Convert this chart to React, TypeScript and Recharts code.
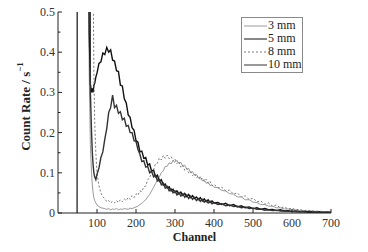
import React from 'react';
import { LineChart, Line, XAxis, YAxis } from 'recharts';

const channels = [
  49, 50, 60, 70, 75, 78, 80, 83, 86, 88, 90, 92, 94, 97,
  100, 105, 110, 115, 120, 125, 130, 135, 140, 145, 150, 155, 160, 165, 170, 175,
  180, 185, 190, 195, 200, 205, 210, 215, 220, 225, 230, 235, 240, 245, 250, 255,
  260, 265, 270, 275, 280, 285, 290, 295, 300, 305, 310, 315, 320, 325, 330, 335,
  340, 345, 350, 355, 360, 365, 370, 375, 380, 385, 390, 395, 400,
  410, 420, 430, 440, 450, 460, 470, 480, 490, 500, 510, 520, 530, 540, 550, 560,
  570, 580, 590, 600, 610, 620, 630, 640, 650, 660, 670, 680, 690, 700,
];

const mm3 = [
  2, 2, 2, 2, 2, 0.6, 0.35, 0.17, 0.1, 0.07, 0.05, 0.038, 0.031, 0.025,
  0.02, 0.016, 0.013, 0.012, 0.011, 0.009, 0.011, 0.008, 0.01, 0.009, 0.011, 0.008, 0.01, 0.009, 0.011, 0.01,
  0.009, 0.012, 0.011, 0.013, 0.015, 0.017, 0.021, 0.024, 0.029, 0.033, 0.04, 0.046, 0.055, 0.064, 0.073, 0.082,
  0.09, 0.1, 0.105, 0.116, 0.116, 0.125, 0.122, 0.13, 0.126, 0.131, 0.123, 0.126, 0.116, 0.119, 0.109, 0.111,
  0.1, 0.103, 0.094, 0.096, 0.087, 0.09, 0.08, 0.083, 0.074, 0.077, 0.068, 0.07, 0.064,
  0.063, 0.056, 0.055, 0.048, 0.047, 0.04, 0.04, 0.033, 0.033, 0.027, 0.026, 0.021, 0.021, 0.017, 0.017, 0.013,
  0.013, 0.01, 0.01, 0.008, 0.008, 0.006, 0.006, 0.005, 0.005, 0.004, 0.004, 0.003, 0.003, 0.002,
];

const mm5 = [
  2, 2, 2, 2, 2, 0.8, 0.45, 0.32, 0.3, 0.31, 0.3, 0.318, 0.322, 0.338,
  0.348, 0.372, 0.376, 0.398, 0.394, 0.412, 0.4, 0.406, 0.38, 0.378, 0.354, 0.352, 0.318, 0.316, 0.284, 0.274,
  0.244, 0.238, 0.212, 0.206, 0.18, 0.176, 0.152, 0.154, 0.136, 0.138, 0.119, 0.122, 0.104, 0.107, 0.09, 0.094,
  0.079, 0.083, 0.069, 0.072, 0.062, 0.065, 0.055, 0.059, 0.051, 0.055, 0.047, 0.052, 0.044, 0.049, 0.041, 0.046,
  0.038, 0.043, 0.036, 0.04, 0.033, 0.038, 0.03, 0.035, 0.028, 0.033, 0.026, 0.03, 0.025,
  0.026, 0.021, 0.024, 0.018, 0.021, 0.015, 0.018, 0.013, 0.015, 0.011, 0.013, 0.009, 0.011, 0.008, 0.009, 0.006,
  0.008, 0.005, 0.006, 0.004, 0.005, 0.003, 0.004, 0.003, 0.003, 0.002, 0.003, 0.002, 0.002, 0.002,
];

const mm8 = [
  2, 2, 2, 2, 2, 2, 2, 2, 2, 2, 0.6, 0.35, 0.23, 0.15,
  0.1, 0.068, 0.05, 0.04, 0.036, 0.028, 0.031, 0.025, 0.029, 0.025, 0.031, 0.026, 0.033, 0.028, 0.035, 0.031,
  0.039, 0.034, 0.043, 0.038, 0.048, 0.044, 0.055, 0.053, 0.065, 0.067, 0.083, 0.087, 0.103, 0.107, 0.123, 0.124,
  0.137, 0.132, 0.143, 0.136, 0.144, 0.135, 0.14, 0.13, 0.135, 0.123, 0.128, 0.114, 0.119, 0.106, 0.111, 0.1,
  0.104, 0.093, 0.098, 0.088, 0.092, 0.082, 0.087, 0.078, 0.084, 0.073, 0.078, 0.068, 0.071,
  0.063, 0.064, 0.055, 0.057, 0.047, 0.05, 0.04, 0.043, 0.034, 0.037, 0.028, 0.03, 0.022, 0.025, 0.017, 0.02,
  0.013, 0.015, 0.01, 0.012, 0.008, 0.009, 0.006, 0.007, 0.005, 0.005, 0.004, 0.004, 0.003, 0.003,
];

const mm10 = [
  0, 2, 2, 2, 2, 2, 2, 0.3, 0.2, 0.15, 0.12, 0.1, 0.09, 0.083,
  0.096, 0.112, 0.138, 0.152, 0.184, 0.21, 0.25, 0.262, 0.293, 0.262, 0.268, 0.248, 0.252, 0.232, 0.236, 0.216,
  0.218, 0.2, 0.2, 0.18, 0.178, 0.158, 0.146, 0.128, 0.13, 0.114, 0.116, 0.1, 0.104, 0.09, 0.094, 0.08,
  0.083, 0.07, 0.074, 0.062, 0.066, 0.055, 0.06, 0.05, 0.055, 0.045, 0.051, 0.042, 0.048, 0.039, 0.045, 0.036,
  0.042, 0.034, 0.039, 0.031, 0.036, 0.029, 0.034, 0.027, 0.031, 0.025, 0.029, 0.023, 0.026,
  0.021, 0.023, 0.018, 0.02, 0.016, 0.017, 0.013, 0.015, 0.011, 0.012, 0.009, 0.01, 0.007, 0.008, 0.006, 0.007,
  0.005, 0.005, 0.004, 0.004, 0.003, 0.003, 0.003, 0.002, 0.002, 0.002, 0.002, 0.001, 0.002, 0.001,
];

const yTicks = [0, 0.05, 0.1, 0.15, 0.2, 0.25, 0.3, 0.35, 0.4, 0.45, 0.5];
const xTicks = [50, 100, 150, 200, 250, 300, 350, 400, 450, 500, 550, 600, 650, 700];

const seriesDefs = [
  { key: 'mm3', name: '3 mm', color: '#9a9a9a', width: 1, dash: undefined },
  { key: 'mm5', name: '5 mm', color: '#111111', width: 1.4, dash: undefined },
  { key: 'mm8', name: '8 mm', color: '#7a7a7a', width: 1, dash: '2 2' },
  { key: 'mm10', name: '10 mm', color: '#333333', width: 1.4, dash: undefined },
];

const data = channels.map((ch, i) => ({
  ch,
  mm3: mm3[i],
  mm5: mm5[i],
  mm8: mm8[i],
  mm10: mm10[i],
}));

const FONT = '"Liberation Serif", "Times New Roman", serif';

const YTick = (props: any) => {
  const { x, y, payload } = props;
  const v = payload.value as number;
  const major = Math.abs(v * 10 - Math.round(v * 10)) < 1e-6;
  return (
    <g>
      <line x1={x} x2={x + (major ? 4 : 2.5)} y1={y} y2={y} stroke="#222" strokeWidth={1} />
      {major && (
        <text x={x - 3} y={y} dy={4} textAnchor="end" fontFamily={FONT} fontSize={12} fill="#333">
          {v === 0 ? '0' : v.toFixed(1)}
        </text>
      )}
    </g>
  );
};

const XTick = (props: any) => {
  const { x, y, payload } = props;
  const v = payload.value as number;
  const major = v % 100 === 0;
  return (
    <g>
      <line x1={x} x2={x} y1={y} y2={y - (major ? 4 : 2.5)} stroke="#222" strokeWidth={1} />
      {major && (
        <text x={x} y={y} dy={14} textAnchor="middle" fontFamily={FONT} fontSize={12} fill="#333">
          {v}
        </text>
      )}
    </g>
  );
};

const YLabel = (props: any) => {
  const vb = props.viewBox || { x: 0, y: 0, width: 0, height: 0 };
  const cx = vb.x + 7;
  const cy = vb.y + vb.height / 2 - 6;
  return (
    <text
      x={cx}
      y={cy}
      transform={`rotate(-90 ${cx} ${cy})`}
      textAnchor="middle"
      dominantBaseline="central"
      fontFamily={FONT}
      fontSize={13}
      fontWeight="bold"
      fill="#222"
    >
      Count Rate / s
      <tspan dy={-5} fontSize={9}>−1</tspan>
    </text>
  );
};

const XLabel = (props: any) => {
  const vb = props.viewBox || { x: 0, y: 0, width: 0, height: 0 };
  return (
    <text
      x={vb.x + vb.width / 2}
      y={vb.y + 28}
      textAnchor="middle"
      fontFamily={FONT}
      fontSize={12}
      fontWeight="bold"
      fill="#222"
    >
      Channel
    </text>
  );
};

const LegendBox = () => (
  <div
    style={{
      position: 'absolute',
      left: 241,
      top: 17,
      border: '1px solid #8a8a8a',
      background: '#fff',
      padding: '1px 2px 1px 2px',
      fontFamily: FONT,
      fontSize: 12,
      color: '#222',
      lineHeight: '13px',
      width: 56,
    }}
  >
    {seriesDefs.map((s) => (
      <div key={s.key} style={{ display: 'flex', alignItems: 'center', height: 13 }}>
        <svg width={23} height={6} style={{ marginRight: 1, flexShrink: 0 }}>
          <line
            x1={0}
            x2={23}
            y1={3}
            y2={3}
            stroke={s.color}
            strokeWidth={1}
            strokeDasharray={s.dash}
          />
        </svg>
        <span style={{ whiteSpace: 'nowrap' }}>{s.name}</span>
      </div>
    ))}
  </div>
);

export default function App() {
  return (
    <div style={{ position: 'relative', margin: -8, width: 368, height: 252, background: '#fff' }}>
      <LineChart
        width={368}
        height={252}
        data={data}
        margin={{ top: 12, right: 37, bottom: 9, left: 18 }}
      >
        <XAxis
          dataKey="ch"
          type="number"
          domain={[0, 700]}
          ticks={xTicks}
          tick={<XTick />}
          tickSize={0}
          tickMargin={0}
          height={30}
          stroke="#222"
          allowDataOverflow
          label={<XLabel />}
        />
        <YAxis
          type="number"
          domain={[0, 0.5]}
          ticks={yTicks}
          tick={<YTick />}
          tickSize={0}
          tickMargin={0}
          width={40}
          stroke="#222"
          allowDataOverflow
          interval={0}
          label={<YLabel />}
        />
        {seriesDefs.map((s) => (
          <Line
            key={s.key}
            dataKey={s.key}
            name={s.name}
            type="linear"
            stroke={s.color}
            strokeWidth={s.width}
            strokeDasharray={s.dash}
            dot={false}
            activeDot={false}
            isAnimationActive={false}
          />
        ))}
      </LineChart>
      <LegendBox />
    </div>
  );
}
